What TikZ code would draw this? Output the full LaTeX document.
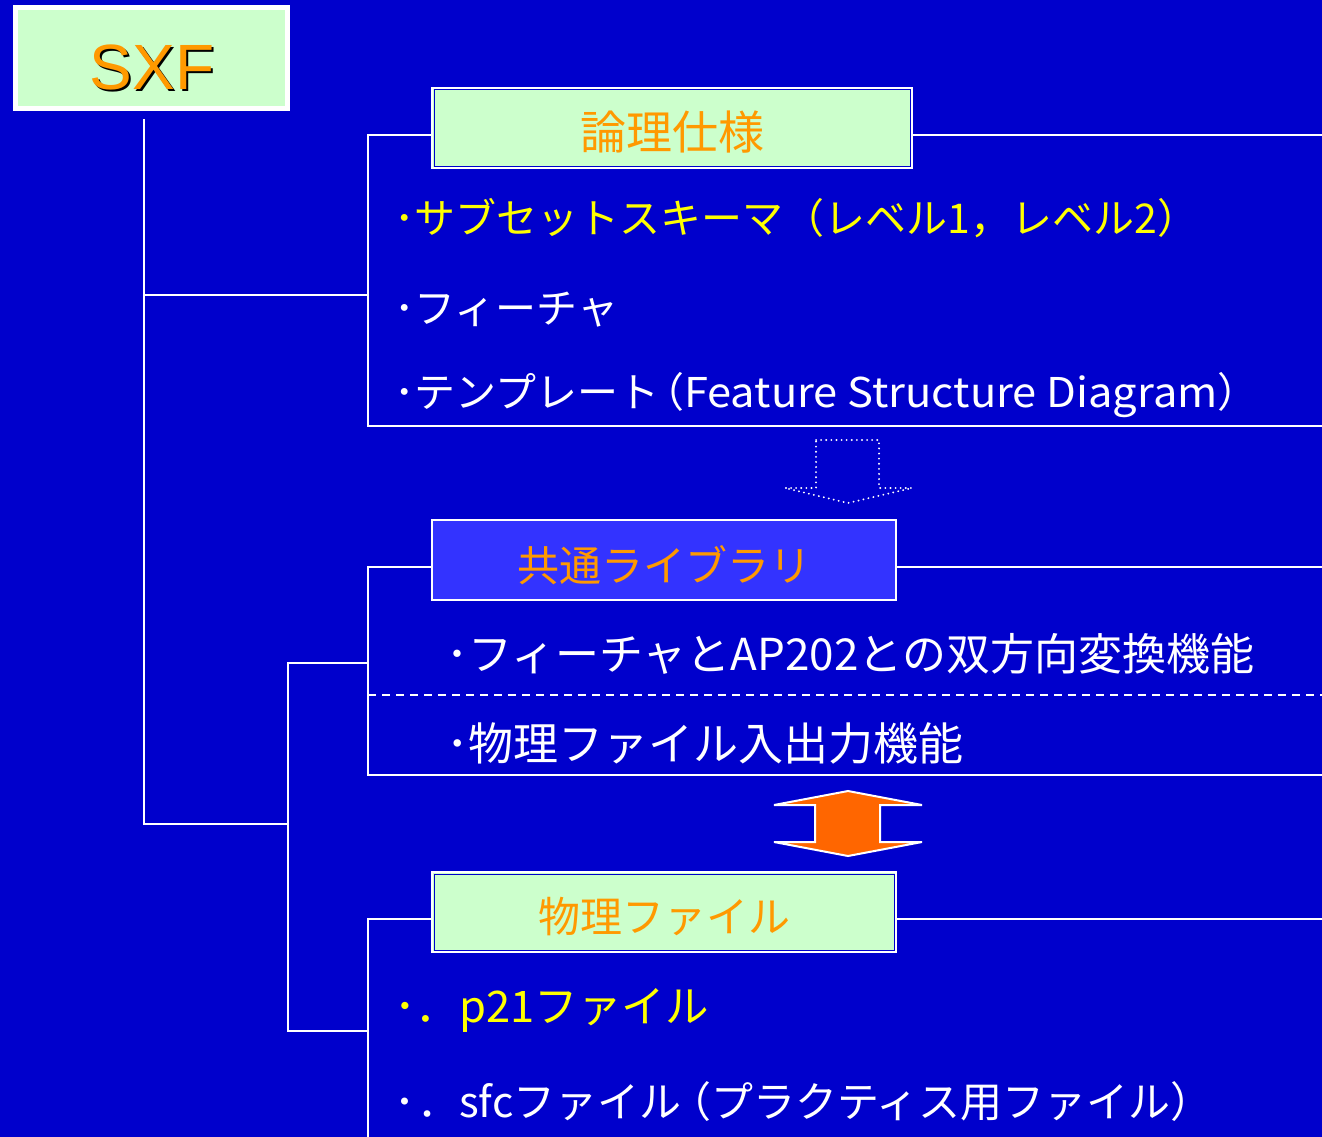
\documentclass[tikz,border=0pt]{standalone}
\usepackage{fontspec}
\usepackage{graphicx}
\setmainfont{Noto Sans CJK JP}
\newfontfamily\latinsans{Liberation Sans}
\definecolor{bg}{HTML}{0000CC}
\definecolor{pale}{HTML}{CCFFCC}
\definecolor{orng}{HTML}{FF9900}
\definecolor{libblue}{HTML}{3333FF}
\definecolor{arrowor}{HTML}{FF6600}
\definecolor{yel}{HTML}{FFFF00}
\tikzset{
  wline/.style={draw=white, line width=2pt},
  header/.style={draw=white, line width=2pt, minimum height=80pt, inner sep=0pt},
  htext/.style={inner sep=0pt, text=orng, font=\fontsize{42}{50}\selectfont},
  item/.style={anchor=base west, inner sep=0pt, text=white},
}
\begin{document}
\begin{tikzpicture}[x=1pt,y=-1pt]
\fill[bg] (0,0) rectangle (1322,1137);
\useasboundingbox (0,0) rectangle (1322,1137);

% SXF box
\node[draw=white, line width=5pt, fill=pale, minimum width=272pt, minimum height=101pt, inner sep=0pt] (sxf) at (151.5,58) {};
\node[anchor=base, inner sep=0pt, text=black, font=\latinsans\fontsize{64}{70}\selectfont] (sxfs) at (154,92) {SXF};
\node[anchor=base, inner sep=0pt, text=orng, font=\latinsans\fontsize{64}{70}\selectfont] (sxft) at (152,90) {SXF};

% headers
\node[header, fill=pale, minimum width=480pt] (h1) at (672,128) {};
\draw[bg, line width=1pt] ([shift={(3,3)}]h1.north west) rectangle ([shift={(-3,-3)}]h1.south east);
\node[htext, font=\fontsize{46}{52}\selectfont] (h1t) at ([yshift=-4pt]h1.center) {論理仕様};
\node[header, fill=libblue, minimum width=464pt] (h2) at (664,560) {};
\node[htext] (h2t) at ([yshift=-5pt]h2.center) {共通ライブラリ};
\node[header, fill=pale, minimum width=464pt] (h3) at (664,912) {};
\draw[bg, line width=1pt] ([shift={(3,3)}]h3.north west) rectangle ([shift={(-3,-3)}]h3.south east);
\node[htext] (h3t) at ([yshift=-5pt]h3.center) {物理ファイル};

% box frames
\draw[wline] (h1.west |- 0,135) -- (368,135) -- (368,426) -- (1322,426);
\draw[wline] (h1.east |- 0,135) -- (1322,135);
\draw[wline] (h2.west |- 0,567) -- (368,567) -- (368,775) -- (1322,775);
\draw[wline] (h2.east |- 0,567) -- (1322,567);
\draw[wline, dash pattern=on 8pt off 6pt] (368,695) -- (1322,695);
\draw[wline] (h3.west |- 0,919) -- (368,919) -- (368,1137);
\draw[wline] (h3.east |- 0,919) -- (1322,919);

% tree
\coordinate (t0) at (144,119);
\coordinate (t1) at (144,295);
\coordinate (b1) at (368,295);
\coordinate (t2) at (144,824);
\coordinate (t3) at (288,824);
\coordinate (t4) at (288,663);
\coordinate (b2) at (368,663);
\coordinate (t5) at (288,1031);
\coordinate (b3) at (368,1031);
\draw[wline] (t0) -- (t2) -- (t3);
\draw[wline] (t1) -- (b1);
\draw[wline] (b2) -- (t4) -- (t5) -- (b3);

% items box 1
\node[item, text=yel, font=\fontsize{41}{50}\selectfont] (i1) at (394,233) {･サブセットスキーマ（レベル1，レベル2）};
\node[item, font=\fontsize{41}{50}\selectfont] (i2) at (394,323) {･フィーチャ};
\node[item, font=\fontsize{41}{50}\selectfont] (i3) at (394,407) {･テンプレート\kern-0.4em（\scalebox{1.06}[1]{Feature Structure Diagram}）};

% items box 2
\node[item, font=\fontsize{44}{52}\selectfont] (i4) at (446,670) {･フィーチャとAP202との双方向変換機能};
\node[item, font=\fontsize{45}{54}\selectfont] (i5) at (446,760) {･物理ファイル入出力機能};

% items box 3
\node[item, text=yel, font=\fontsize{43.5}{52}\selectfont] (i6) at (394,1022) {･．p21ファイル};
\node[item, font=\fontsize{42}{50}\selectfont] (i7) at (394,1117) {･\kern0.05em．sfcファイル\kern-0.3em（プラクティス用ファイル）};

% dotted arrow
\draw[white, line width=2pt, line cap=round, dash pattern=on 0.1pt off 5pt]
  (816,440) -- (879,440) -- (879,488) -- (912,488) -- (848,503) -- (785,488) -- (816,488) -- cycle;

% double arrow
\draw[white, line width=2pt, fill=arrowor, line join=miter]
  (848,791) -- (922,805) -- (880,805) -- (880,842) -- (922,842) -- (848,856)
  -- (774,842) -- (815,842) -- (815,805) -- (774,805) -- cycle;
\end{tikzpicture}
\end{document}
